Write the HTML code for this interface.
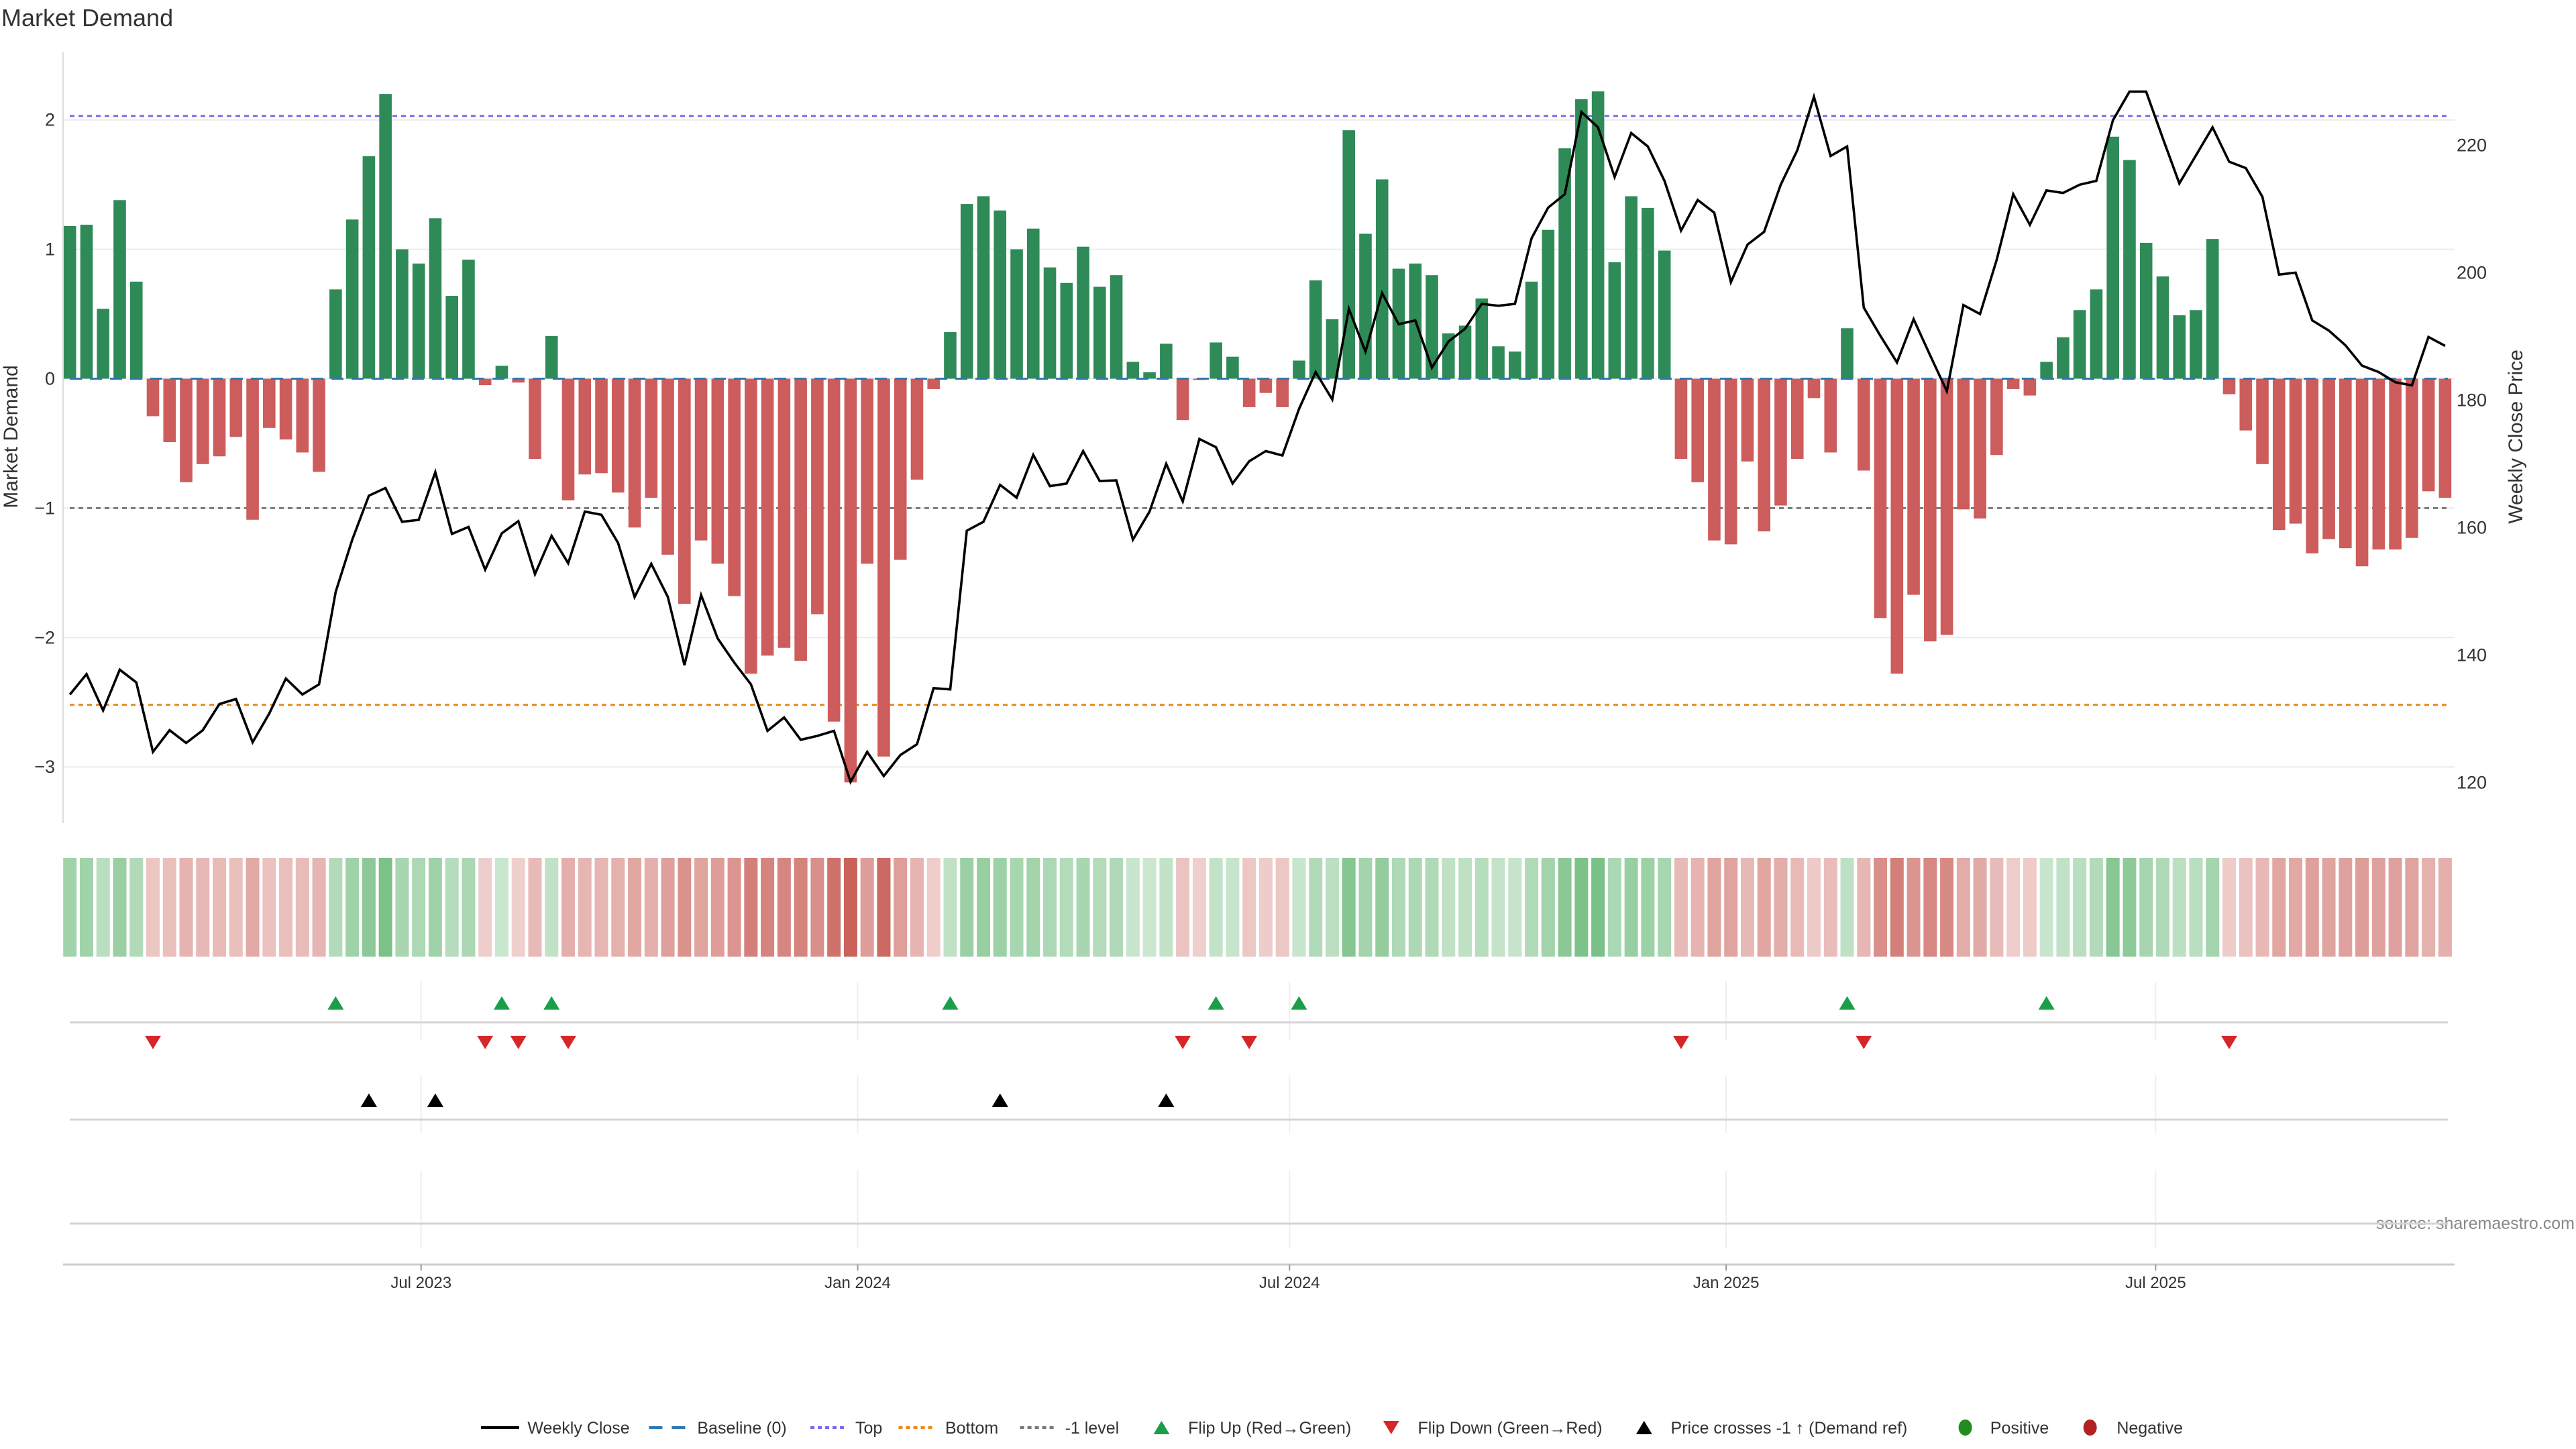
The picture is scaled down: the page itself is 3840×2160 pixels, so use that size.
<!DOCTYPE html>
<html><head><meta charset="utf-8">
<style>
html,body{margin:0;padding:0;background:#fff;}
svg{display:block;font-family:"Liberation Sans","DejaVu Sans",sans-serif;}
</style></head>
<body>
<svg id="chart" width="3840" height="2160" viewBox="0 0 3840 2160" xmlns="http://www.w3.org/2000/svg">
<rect x="0" y="0" width="3840" height="2160" fill="#fff"/>
<text x="2" y="39" font-size="36" fill="#333">Market Demand</text>
<g id="grid"></g>
<g id="refs"></g>
<g id="bars"></g>
<g id="baseline"></g>
<g id="price"></g>
<g id="axes"></g>
<g id="heat"></g>
<g id="markers"></g>
<g id="legend"></g>
</svg>
<script>
const demand = [1.18,1.19,0.54,1.38,0.75,-0.29,-0.49,-0.80,-0.66,-0.60,-0.45,-1.09,-0.38,-0.47,-0.57,-0.72,
0.69,1.23,1.72,2.20,1.00,0.89,1.24,0.64,0.92,-0.05,0.10,-0.03,-0.62,0.33,-0.94,-0.74,-0.73,-0.88,-1.15,-0.92,
-1.36,-1.74,-1.25,-1.43,-1.68,-2.28,-2.14,-2.08,-2.18,-1.82,-2.65,-3.12,-1.43,-2.92,-1.40,-0.78,-0.08,
0.36,1.35,1.41,1.30,1.00,1.16,0.86,0.74,1.02,0.71,0.80,0.13,0.05,0.27,-0.32,-0.01,0.28,0.17,-0.22,-0.11,-0.22,
0.14,0.76,0.46,1.92,1.12,1.54,0.85,0.89,0.80,0.35,0.41,0.62,0.25,0.21,0.75,1.15,1.78,2.16,2.22,0.90,1.41,1.32,0.99,
-0.62,-0.80,-1.25,-1.28,-0.64,-1.18,-0.98,-0.62,-0.15,-0.57,0.39,-0.71,-1.85,-2.28,-1.67,-2.03,-1.98,
-1.01,-1.08,-0.59,-0.08,-0.13,0.13,0.32,0.53,0.69,1.87,1.69,1.05,0.79,0.49,0.53,1.08,
-0.12,-0.40,-0.66,-1.17,-1.12,-1.35,-1.24,-1.31,-1.45,-1.32,-1.32,-1.23,-0.87,-0.92];
const price = [133.8,137.0,131.3,137.7,135.7,124.8,128.2,126.2,128.2,132.3,133.1,126.3,130.8,136.3,133.8,135.4,
149.9,158.1,165.0,166.2,160.9,161.2,168.7,159.0,160.1,153.4,159.1,161.0,152.7,158.7,154.4,162.5,162.0,157.6,149.1,154.3,
149.1,138.4,149.4,142.6,138.8,135.4,128.1,130.2,126.7,127.3,128.1,120.1,124.8,121.0,124.3,126.0,134.8,
134.6,159.5,160.9,166.7,164.7,171.4,166.5,166.9,172.0,167.3,167.4,158.1,162.5,170.0,164.1,173.9,172.6,166.9,170.4,172.0,171.3,
178.6,184.4,180.1,194.3,187.6,196.8,191.9,192.5,185.1,189.2,191.2,195.1,194.8,195.1,205.4,210.2,212.3,225.2,222.8,215.0,221.9,219.8,214.4,
206.6,211.4,209.4,198.5,204.4,206.4,213.8,219.2,227.6,218.3,219.8,194.5,190.1,185.9,192.7,187.0,181.4,
194.9,193.5,202.0,212.3,207.5,212.9,212.5,213.8,214.4,223.9,228.4,228.4,221.1,214.0,218.4,222.8,
217.4,216.4,211.9,199.7,200.0,192.5,190.9,188.6,185.4,184.4,182.8,182.3,189.9,188.5];
const leftTicks = [2,1,0,-1,-2,-3];
const rightTicks = [220,200,180,160,140,120];
const topLevel = 2.03, bottomLevel = -2.52, minusLevel = -1;
const dateTicks = ["2023-07-01","2024-01-01","2024-07-01","2025-01-01","2025-07-01"];
const dateLabels = ["Jul 2023","Jan 2024","Jul 2024","Jan 2025","Jul 2025"];
const startDate = "2023-02-03";

const NS="http://www.w3.org/2000/svg";
function mk(parent, tag, attrs, txt){const e=document.createElementNS(NS,tag);for(const k in attrs)e.setAttribute(k,attrs[k]);if(txt!==undefined)e.textContent=txt;document.getElementById(parent).appendChild(e);return e;}
const X = i => 104.2 + 24.76*i;
const Y = d => 564.5 - 192.9*d;
const YP = p => 596.4 - 9.5*(p-180);
const dateX = s => X((new Date(s) - new Date(startDate))/(7*86400000));
const PL=94, PR=3659;

leftTicks.forEach(t=>{
  const g=mk('grid','line',{x1:PL,x2:PR,y1:Y(t),y2:Y(t),stroke:'#ececec','stroke-width':2});
  
  
  const l=mk('axes','text',{x:82,y:Y(t)+9,'font-size':27,fill:'#333','text-anchor':'end'},t<0?'\u2212'+Math.abs(t):String(t));
  
  
});
rightTicks.forEach(t=>{
  const l=mk('axes','text',{x:3662,y:YP(t)+9,'font-size':27,fill:'#333'},String(t));
  
  
});
let a=mk('axes','line',{x1:PL,x2:PL,y1:78,y2:1227,stroke:'#ddd','stroke-width':2});


let t1=mk('axes','text',{x:0,y:0,'font-size':30,fill:'#333','text-anchor':'middle',transform:'translate(26,651) rotate(-90)'},'Market Demand');


let t2=mk('axes','text',{x:0,y:0,'font-size':30,fill:'#333','text-anchor':'middle',transform:'translate(3760,651) rotate(-90)'},'Weekly Close Price');



[[topLevel,'#7b68ee','top-line'],[bottomLevel,'#e8891f','bottom-line'],[minusLevel,'#777','minus-one-level-line']].forEach(r=>{
  const l=mk('refs','line',{x1:104,x2:3649,y1:Y(r[0]),y2:Y(r[0]),stroke:r[1],'stroke-width':3,'stroke-dasharray':'7,6'});
  
  
});

const BW=18.6;
demand.forEach((v,i)=>{
  const y0=Y(0), y1=Y(v);
  const b=mk('bars','rect',{x:X(i)-BW/2,y:Math.min(y0,y1),width:BW,height:Math.max(1,Math.abs(y1-y0)),fill:v>0?'#2e8b57':'#cd5c5c'});
  
  
});
let bl=mk('baseline','line',{x1:104,x2:3649,y1:Y(0),y2:Y(0),stroke:'#2f78b0','stroke-width':3,'stroke-dasharray':'18,12'});



let pts=price.map((p,i)=>X(i).toFixed(1)+','+YP(p).toFixed(1)).join(' ');
let pl=mk('price','polyline',{points:pts,fill:'none',stroke:'#000','stroke-width':3.6,'stroke-linejoin':'miter'});



const maxAbs=Math.max(...demand.map(Math.abs));
function mix(c,al){return 'rgb('+c.map(x=>Math.round(255+(x-255)*al)).join(',')+')';}
demand.forEach((v,i)=>{
  const al=0.27+0.63*Math.abs(v)/maxAbs;
  const c=v>0?mix([70,168,88],al):mix([196,80,72],al);
  const h=mk('heat','rect',{x:X(i)-10,y:1279,width:20,height:147,fill:c});
  
  
});

[[1463,1551],[1603,1689],[1745,1860]].forEach(p=>{
  dateTicks.forEach(d=>{
    const v=mk('markers','line',{x1:dateX(d),x2:dateX(d),y1:p[0],y2:p[1],stroke:'#eceef2','stroke-width':2});
    
    
  });
});
[1524,1669,1824].forEach(y=>{
  const l=mk('markers','line',{x1:104,x2:3649,y1:y,y2:y,stroke:'#d4d4d4','stroke-width':3});
  
  
});
function tri(x,y,up,color,name){
  const p=up?`${x-12},${y+10} ${x+12},${y+10} ${x},${y-10}`:`${x-12},${y-10} ${x+12},${y-10} ${x},${y+10}`;
  const t=mk('markers','polygon',{points:p,fill:color});
  
  
}
const refPrice = 180 + (Y(minusLevel) - YP(180))/-9.5;
for(let i=1;i<demand.length;i++){
  if(demand[i]>0 && demand[i-1]<=0) tri(X(i),1495,true,'#1a9e4a','flip-up-marker');
  if(demand[i]<=0 && demand[i-1]>0) tri(X(i),1554,false,'#d62728','flip-down-marker');
  if(price[i]>=refPrice && price[i-1]<refPrice) tri(X(i),1640,true,'#000','price-cross-marker');
}

let xa=mk('axes','line',{x1:PL,x2:PR,y1:1885,y2:1885,stroke:'#ccc','stroke-width':3});


dateTicks.forEach((d,k)=>{
  const x=dateX(d);
  const tk=mk('axes','line',{x1:x,x2:x,y1:1885,y2:1894,stroke:'#999','stroke-width':2});
  
  
  const l=mk('axes','text',{x:x,y:1920,'font-size':24,fill:'#333','text-anchor':'middle'},dateLabels[k]);
  
  
});
let src=mk('axes','text',{x:3838,y:1832,'font-size':25,fill:'#888','text-anchor':'end'},'source: sharemaestro.com');


</script>
<script>
(function(){
  const NS="http://www.w3.org/2000/svg";
  const g=document.getElementById('legend');
  const c=2128;
  function el(tag,attrs,txt){const e=document.createElementNS(NS,tag);for(const k in attrs)e.setAttribute(k,attrs[k]);if(txt!==undefined)e.textContent=txt;g.appendChild(e);return e;}
  const S=2.4806;
  function label(xd,s,name){const t=el('text',{x:xd*S,y:c+9,'font-size':25,fill:'#333'},s);}
  let e;
  e=el('line',{x1:289*S,x2:312*S,y1:c,y2:c,stroke:'#000','stroke-width':4});
  
  
  label(317,'Weekly Close','legend-weekly-close');
  e=el('line',{x1:390*S,x2:412*S,y1:c,y2:c,stroke:'#2f78b0','stroke-width':4,'stroke-dasharray':'20,14'});
  
  
  label(419,'Baseline (0)','legend-baseline');
  e=el('line',{x1:487*S,x2:508*S,y1:c,y2:c,stroke:'#7b68ee','stroke-width':4,'stroke-dasharray':'6,5'});
  
  
  label(514,'Top','legend-top');
  e=el('line',{x1:540*S,x2:561*S,y1:c,y2:c,stroke:'#e8891f','stroke-width':4,'stroke-dasharray':'6,5'});
  
  
  label(568,'Bottom','legend-bottom');
  e=el('line',{x1:613*S,x2:634*S,y1:c,y2:c,stroke:'#777','stroke-width':4,'stroke-dasharray':'6,5'});
  
  
  label(640,'-1 level','legend-minus-one');
  function tri(xd,up,col,name){const x=xd*S;const p=up?`${x-12},${c+10} ${x+12},${c+10} ${x},${c-10}`:`${x-12},${c-10} ${x+12},${c-10} ${x},${c+10}`;const t=el('polygon',{points:p,fill:col});}
  tri(698,true,'#1a9e4a','legend-flip-up-swatch');
  label(714,'Flip Up (Red\u2192Green)','legend-flip-up');
  tri(836,false,'#d62728','legend-flip-down-swatch');
  label(852,'Flip Down (Green\u2192Red)','legend-flip-down');
  tri(988,true,'#000','legend-price-cross-swatch');
  label(1004,'Price crosses -1 \u2191 (Demand ref)','legend-price-cross');
  e=el('ellipse',{cx:1181*S,cy:c,rx:10,ry:12,fill:'#228b22'});
  
  
  label(1196,'Positive','legend-positive');
  e=el('ellipse',{cx:1256*S,cy:c,rx:10,ry:12,fill:'#b22222'});
  
  
  label(1272,'Negative','legend-negative');
})();
</script>
</body></html>
